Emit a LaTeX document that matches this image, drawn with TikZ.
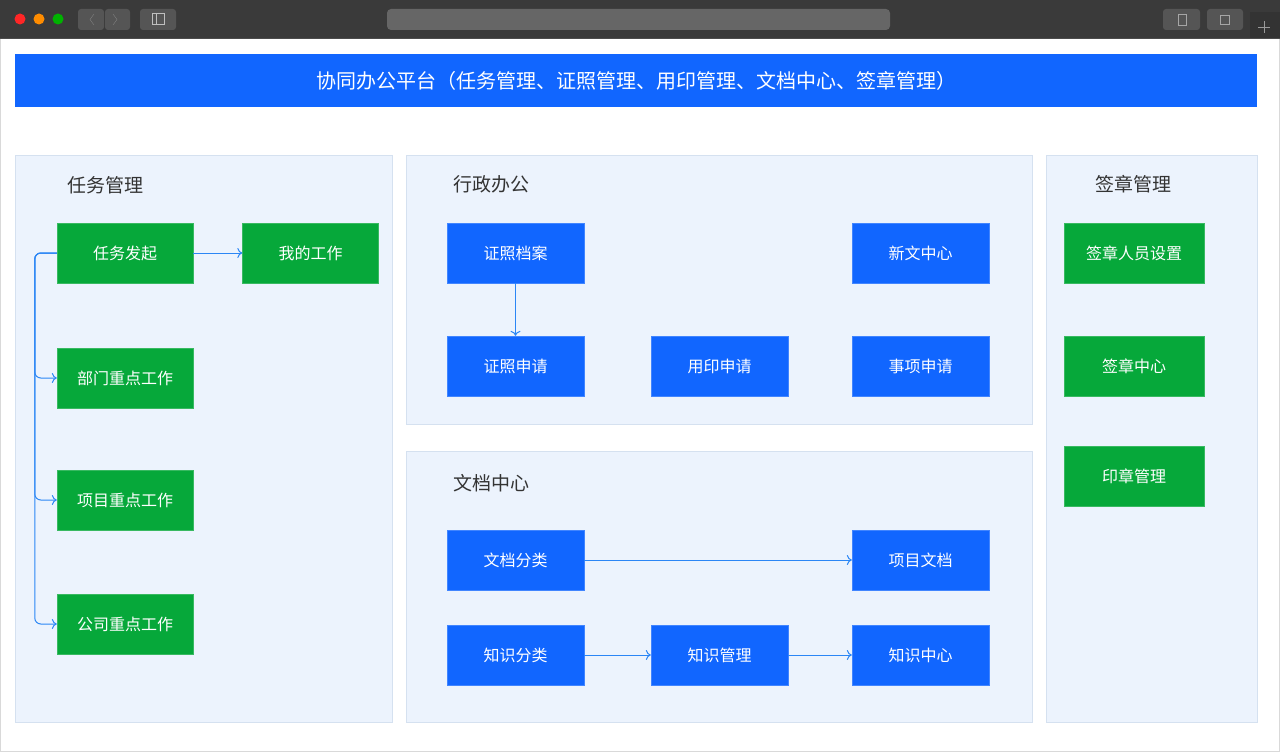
\documentclass[tikz,border=0pt]{standalone}
\usepackage{fontspec}
\setmainfont{Noto Sans CJK SC}
\usetikzlibrary{arrows.meta}
\definecolor{bar}{HTML}{3A3A3A}
\definecolor{btn}{HTML}{555555}
\definecolor{addr}{HTML}{666666}
\definecolor{mblue}{HTML}{1166FF}
\definecolor{mgreen}{HTML}{06A83A}
\definecolor{panel}{HTML}{ECF3FD}
\definecolor{pline}{HTML}{D5E1F0}
\definecolor{arrc}{HTML}{2B86F5}
\definecolor{ttl}{HTML}{333333}
\begin{document}
\begin{tikzpicture}[x=1pt,y=-1pt,
  panelbox/.style={fill=panel,draw=pline,line width=0.8pt},
  sect/.style={text=ttl,font=\fontsize{19}{22}\selectfont},
  gbox/.style={fill=mgreen,draw=mgreen!80!white,text=white,font=\fontsize{16}{19}\selectfont,minimum width=136pt,minimum height=60pt,inner sep=0pt},
  bbox/.style={fill=mblue,draw=mblue!80!white,text=white,font=\fontsize{16}{19}\selectfont,minimum width=137pt,minimum height=60pt,inner sep=0pt},
  arr/.style={draw=arrc,line width=1pt,-{To[length=5pt,width=10pt]}},
  wbtn/.style={fill=btn,rounded corners=3pt}]
\useasboundingbox (0,0) rectangle (1280,752);
\fill[white] (0,0) rectangle (1280,752);
\draw[black!15] (0.5,0) rectangle (1279.5,751.5);
% browser bar
\fill[bar] (0,0) rectangle (1280,38);
\draw[black!70] (0,38) -- (1280,38);
\fill[red!85!white] (20,19) circle (5.5);
\fill[orange!90!yellow] (39,19) circle (5.5);
\fill[green!70!black] (58,19) circle (5.5);
\fill[wbtn] (78,9) rectangle (104,30);
\fill[wbtn] (105,9) rectangle (130,30);
\draw[black!50] (94,14) -- (90,19.5) -- (94,25);
\draw[black!50] (113,14) -- (117,19.5) -- (113,25);
\fill[wbtn] (140,9) rectangle (176,30);
\draw[black!25,line width=1pt] (152,14) rectangle (164,25); \draw[black!25] (156,14) -- (156,25);
\fill[addr,rounded corners=4pt] (387,9) rectangle (890,30);
\fill[wbtn] (1163,9) rectangle (1200,30);
\fill[wbtn] (1207,9) rectangle (1243,30);
\draw[black!35] (1178,14) rectangle (1186,25);
\draw[black!35] (1220,15) rectangle (1229,24);
\fill[black!80] (1250,12) rectangle (1280,38);
\draw[black!40] (1258,27) -- (1270,27) (1264,21) -- (1264,33);
% title
\fill[mblue] (15,54) rectangle (1257,107);
\node[text=white,font=\fontsize{20}{24}\selectfont] (title) at (636,81) {协同办公平台（任务管理、证照管理、用印管理、文档中心、签章管理）};
% panels
\draw[panelbox] (15,155) rectangle (392,722);
\draw[panelbox] (406,155) rectangle (1032,424);
\draw[panelbox] (406,451) rectangle (1032,722);
\draw[panelbox] (1046,155) rectangle (1257,722);
\node[sect] (s1) at (105,185) {任务管理};
\node[sect] (s2) at (491,184) {行政办公};
\node[sect] (s3) at (491,483) {文档中心};
\node[sect] (s4) at (1133,184) {签章管理};
% green
\node[gbox] (rw) at (125,253) {任务发起};
\node[gbox] (wd) at (310.5,253) {我的工作};
\node[gbox] (bm) at (125,378) {部门重点工作};
\node[gbox] (xm) at (125,500) {项目重点工作};
\node[gbox] (gs) at (125,624) {公司重点工作};
\node[gbox,minimum width=140pt] (qr) at (1134,253) {签章人员设置};
\node[gbox,minimum width=140pt] (qz) at (1134,366) {签章中心};
\node[gbox,minimum width=140pt] (yz) at (1134,476) {印章管理};
% blue
\node[bbox] (zd) at (515.5,253) {证照档案};
\node[bbox] (xw) at (920.5,253) {新文中心};
\node[bbox] (zs) at (515.5,366) {证照申请};
\node[bbox] (yy) at (719.5,366) {用印申请};
\node[bbox] (sx) at (920.5,366) {事项申请};
\node[bbox] (wf) at (515.5,560) {文档分类};
\node[bbox] (xd) at (920.5,560) {项目文档};
\node[bbox] (zf) at (515.5,655) {知识分类};
\node[bbox] (zg) at (719.5,655) {知识管理};
\node[bbox] (zx) at (920.5,655) {知识中心};
% connectors
\draw[arr] (rw) -- (wd);
\foreach \t in {bm,xm,gs}
  \draw[arr,rounded corners=6pt] (rw.west) -- ++(-22,0) |- (\t.west);
\draw[arr] (zd) -- (zs);
\draw[arr] (wf) -- (xd);
\draw[arr] (zf) -- (zg);
\draw[arr] (zg) -- (zx);
\end{tikzpicture}
\end{document}
